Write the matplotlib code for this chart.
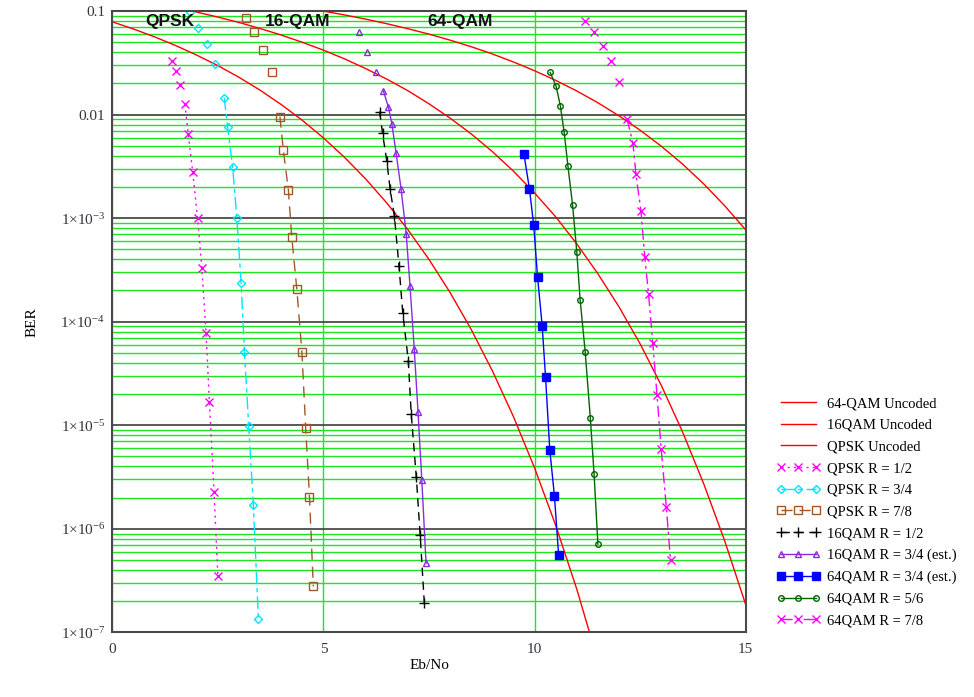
import matplotlib
matplotlib.use('Agg')
import matplotlib.pyplot as plt
from matplotlib.ticker import FixedLocator, FixedFormatter, LogLocator, NullFormatter

plt.rcParams['font.family'] = ['Liberation Serif', 'DejaVu Serif']
plt.rcParams['mathtext.fontset'] = 'custom'
plt.rcParams['mathtext.rm'] = 'Liberation Serif'
plt.rcParams['mathtext.it'] = 'Liberation Serif:italic'

# ---- uncoded reference curves ----
qpsk_unc_ebno = [0, 0.5, 1, 1.5, 2, 2.5, 3, 3.5, 4, 4.5, 5, 5.5, 6, 6.5, 7, 7.5,
                 8, 8.5, 9, 9.5, 10, 10.5, 11, 11.5]
qpsk_unc_ber = [0.0786, 0.0671, 0.0563, 0.0464, 0.0375, 0.0297, 0.0229, 0.0172,
                0.0125, 0.0088, 0.00595, 0.00386, 0.00239, 0.0014, 7.73e-4, 3.99e-4,
                1.91e-4, 8.4e-5, 3.36e-5, 1.21e-5, 3.87e-6, 1.08e-6, 2.61e-7, 5.3e-8]

qam16_unc_ebno = [1.5, 2, 2.5, 3, 3.5, 4, 4.5, 5, 5.5, 6, 6.5, 7, 7.5, 8, 8.5, 9,
                  9.5, 10, 10.5, 11, 11.5, 12, 12.5, 13, 13.5, 14, 14.5, 15]
qam16_unc_ber = [0.108, 0.0976, 0.0874, 0.0775, 0.0678, 0.0586, 0.0499, 0.0419,
                 0.0345, 0.0278, 0.0220, 0.0170, 0.0127, 0.00924, 0.0065, 0.00439,
                 0.00284, 0.00175, 0.00103, 5.64e-4, 2.9e-4, 1.39e-4, 6.1e-5, 2.43e-5,
                 8.7e-6, 2.76e-6, 7.7e-7, 1.85e-7]

qam64_unc_ebno = [5, 5.5, 6, 6.5, 7, 7.5, 8, 8.5, 9, 9.5, 10, 10.5, 11, 11.5, 12,
                  12.5, 13, 13.5, 14, 14.5, 15]
qam64_unc_ber = [0.0997, 0.0916, 0.0835, 0.0754, 0.0675, 0.0598, 0.0523, 0.0452,
                 0.0385, 0.0322, 0.0265, 0.0214, 0.0169, 0.0130, 0.00972, 0.00706,
                 0.00495, 0.00334, 0.00215, 0.00132, 7.7e-4]

# ---- coded curves ----
qpsk12_ebno = [1.41, 1.51, 1.60, 1.72, 1.80, 1.905, 2.02, 2.12, 2.22, 2.30, 2.41, 2.50]
qpsk12_ber = [0.0329, 0.0264, 0.0193, 0.01256, 6.45e-3, 2.77e-3, 9.98e-4, 3.33e-4,
              7.75e-5, 1.66e-5, 2.26e-6, 3.47e-7]

qpsk34_ebno = [1.84, 2.04, 2.24, 2.43, 2.65, 2.73, 2.85, 2.95, 3.05, 3.13, 3.23, 3.34, 3.46]
qpsk34_ber = [0.0984, 0.068, 0.0477, 0.0308, 0.01456, 7.64e-3, 3.1e-3, 9.98e-4,
              2.38e-4, 5.07e-5, 9.9e-6, 1.7e-6, 1.35e-7]

qpsk78_ebno = [3.17, 3.365, 3.58, 3.78, 3.97, 4.05, 4.17, 4.25, 4.37, 4.49, 4.58, 4.67, 4.76]
qpsk78_ber = [0.0849, 0.0623, 0.042, 0.0256, 9.55e-3, 4.55e-3, 1.87e-3, 6.55e-4,
              2.06e-4, 5.07e-5, 9.4e-6, 2.02e-6, 2.77e-7]

qam16_12_ebno = [6.33, 6.40, 6.50, 6.58, 6.68, 6.79, 6.88, 7.01, 7.08, 7.20, 7.29, 7.39]
qam16_12_ber = [0.0107, 6.6e-3, 3.56e-3, 1.9e-3, 1.05e-3, 3.43e-4, 1.2e-4, 4.2e-5,
                1.27e-5, 3.14e-6, 8.8e-7, 1.9e-7]

qam16_34_ebno = [5.84, 6.04, 6.24, 6.42, 6.54, 6.62, 6.72, 6.84, 6.96, 7.05, 7.15,
                 7.24, 7.33, 7.43]
qam16_34_ber = [0.0627, 0.0398, 0.0255, 0.0169, 0.01174, 8.15e-3, 4.27e-3, 1.9e-3,
                7.1e-4, 2.23e-4, 5.5e-5, 1.35e-5, 2.95e-6, 4.65e-7]

qam64_34_ebno = [9.75, 9.88, 9.98, 10.07, 10.18, 10.26, 10.36, 10.47, 10.57]
qam64_34_ber = [4.12e-3, 1.9e-3, 8.5e-4, 2.73e-4, 9.15e-5, 2.93e-5, 5.8e-6, 2.09e-6, 5.57e-7]

qam64_56_ebno = [10.37, 10.51, 10.61, 10.70, 10.79, 10.90, 11.00, 11.08, 11.20,
                 11.32, 11.41, 11.50]
qam64_56_ber = [0.0255, 0.0188, 0.0122, 6.8e-3, 3.19e-3, 1.34e-3, 4.72e-4, 1.61e-4,
                5.06e-5, 1.18e-5, 3.35e-6, 7.1e-7]

qam64_78_ebno = [11.20, 11.40, 11.62, 11.82, 12.01, 12.19, 12.33, 12.40, 12.52, 12.61,
                 12.70, 12.80, 12.90, 13.00, 13.12, 13.22]
qam64_78_ber = [0.0796, 0.0627, 0.0456, 0.0326, 0.0206, 9.1e-3, 5.27e-3, 2.66e-3,
                1.17e-3, 4.19e-4, 1.84e-4, 6.19e-5, 1.94e-5, 5.83e-6, 1.62e-6, 4.94e-7]

ytick_vals = [1e-7, 1e-6, 1e-5, 1e-4, 1e-3, 0.01, 0.1]
ytick_labels = ['1×10$^{-7}$', '1×10$^{-6}$', '1×10$^{-5}$', '1×10$^{-4}$',
                '1×10$^{-3}$', '0.01', '0.1']

fig = plt.figure(figsize=(9.74, 6.97), dpi=100)
ax = fig.add_axes([0.1153, 0.0928, 0.6503, 0.8914])
ax.set_yscale('log')
ax.set_xlim(0, 15)
ax.set_ylim(1e-7, 0.1)

green = '#1ee61e'
ax.set_axisbelow(True)
ax.yaxis.set_minor_locator(LogLocator(base=10, subs=range(2, 10)))
ax.yaxis.set_minor_formatter(NullFormatter())
ax.grid(which='minor', axis='y', color=green, lw=1.0)
ax.grid(which='major', axis='y', color='#3c3c3c', lw=1.2)
ax.set_xticks([0, 5, 10, 15])
ax.grid(which='major', axis='x', color=green, lw=1.0)
ax.yaxis.set_major_locator(FixedLocator(ytick_vals))
ax.yaxis.set_major_formatter(FixedFormatter(ytick_labels))
ax.tick_params(which='both', length=0, labelsize=11, labelcolor='#34343f')
ax.tick_params(axis='x', pad=8)
ax.tick_params(axis='y', pad=5)
for s in ax.spines.values():
    s.set_color('#4a4a4a')
    s.set_linewidth(1.5)

red = '#ff0000'
ax.plot(qam64_unc_ebno, qam64_unc_ber, color=red, lw=1.0, label='64-QAM Uncoded')
ax.plot(qam16_unc_ebno, qam16_unc_ber, color=red, lw=1.0, label='16QAM Uncoded')
ax.plot(qpsk_unc_ebno, qpsk_unc_ber, color=red, lw=1.0, label='QPSK Uncoded')

# (x, y, label, color, marker, size, filled, linestyle, first connected point)
series = [
    (qpsk12_ebno, qpsk12_ber, 'QPSK R = 1/2', '#ff00ff', 'x', 6, False, (0, (1.5, 3)), 3),
    (qpsk34_ebno, qpsk34_ber, 'QPSK R = 3/4', '#00e5ff', 'D', 4, False, (0, (9, 3, 3, 3)), 4),
    (qpsk78_ebno, qpsk78_ber, 'QPSK R = 7/8', '#a0582a', 's', 5.5, False, (0, (8, 5)), 4),
    (qam16_12_ebno, qam16_12_ber, '16QAM R = 1/2', '#000000', '+', 7, False, (0, (6, 4)), 0),
    (qam16_34_ebno, qam16_34_ber, '16QAM R = 3/4 (est.)', '#8a2be2', '^', 5, False, '-', 3),
    (qam64_34_ebno, qam64_34_ber, '64QAM R = 3/4 (est.)', '#0000ff', 's', 5.5, True, '-', 0),
    (qam64_56_ebno, qam64_56_ber, '64QAM R = 5/6', '#006400', 'o', 4, False, '-', 0),
    (qam64_78_ebno, qam64_78_ber, '64QAM R = 7/8', '#ff00ff', 'x', 6, False, (0, (8, 3, 2, 3)), 5),
]

for x, y, lab, col, mk, ms, filled, ls, k in series:
    face = col if filled else 'none'
    ax.plot(x[k:], y[k:], color=col, lw=1.0, ls=ls, marker=mk, ms=ms,
            mfc=face, mec=col, mew=1.0, label=lab)
    if k > 0:
        ax.plot(x[:k], y[:k], ls='none', marker=mk, ms=ms, mfc=face, mec=col, mew=1.0)

for xt, txt in [(1.37, 'QPSK'), (4.40, '16-QAM'), (8.24, '64-QAM')]:
    ax.text(xt, 0.080, txt, ha='center', va='center', fontsize=12.5,
            fontweight='bold', family=['Liberation Sans', 'DejaVu Sans'], color='#111111')

ax.set_xlabel('Eb/No', fontsize=11, labelpad=2)
ax.set_ylabel('BER', fontsize=11, labelpad=16)

fig.legend(loc='upper left', bbox_to_anchor=(0.797, 1 - 397 / 697), frameon=False,
           fontsize=10.5, numpoints=3, handlelength=3.0, handletextpad=0.5,
           labelspacing=0.58, borderpad=0, borderaxespad=0)

fig.savefig('out.png', dpi=100)
